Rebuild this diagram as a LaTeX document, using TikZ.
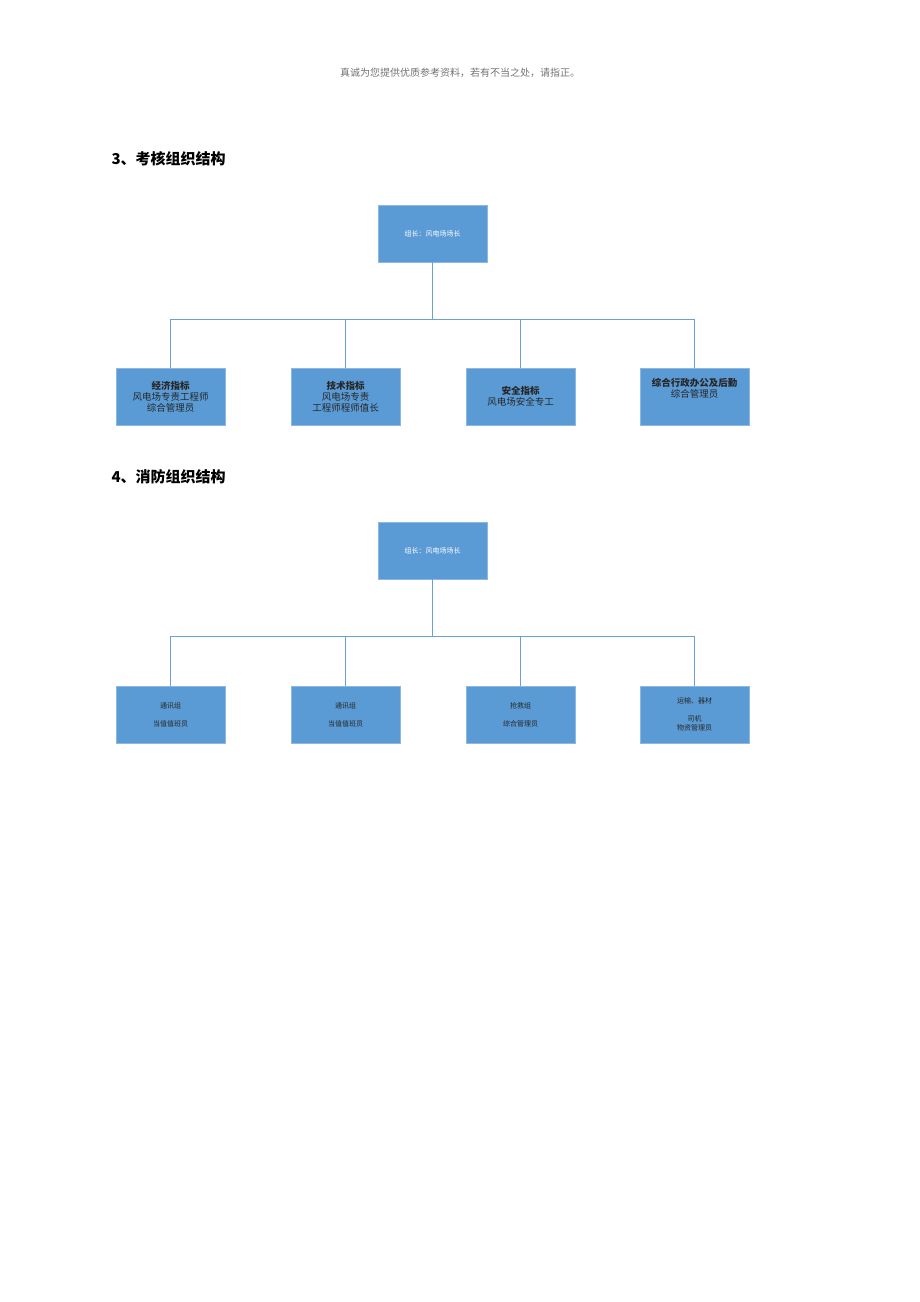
\documentclass[tikz,border=0pt]{standalone}
\usepackage{fontspec}
\newfontfamily\cjk{Noto Sans CJK SC}
\begin{document}
\begin{tikzpicture}[x=1pt,y=-1pt,
 bx/.style={draw=boxline,fill=boxfill,line width=0.8pt,minimum width=109pt,minimum height=57pt,inner sep=1pt,align=center,font=\cjk\fontsize{9.5}{11}\selectfont,text=black!85},
 topb/.style={bx,text=white,font=\cjk\fontsize{7}{9}\selectfont},
 sm/.style={bx,font=\cjk\fontsize{7}{9}\selectfont},
 ln/.style={draw=linec,line width=1pt}]
\definecolor{boxfill}{HTML}{5B9BD5}
\definecolor{boxline}{HTML}{8DB8E2}
\definecolor{linec}{HTML}{6A9FD8}
\useasboundingbox (0,0) rectangle (920,1302);
\node[font=\cjk\fontsize{10}{12}\selectfont,text=black!55] (hd) at (460,73) {真诚为您提供优质参考资料，若有不当之处，请指正。};
\node[anchor=west,font=\cjk\bfseries\fontsize{15}{18}\selectfont] (h3) at (108,159) {3、考核组织结构};
\node[anchor=west,font=\cjk\bfseries\fontsize{15}{18}\selectfont] (h4) at (108,477) {4、消防组织结构};
% chart 1
\node[topb] (t1) at (432.5,233.5) {组长：风电场场长};
\node[bx] (a1) at (170.5,396.5) {\textbf{经济指标}\\风电场专责工程师\\综合管理员};
\node[bx] (a2) at (345.5,396.5) {\textbf{技术指标}\\风电场专责\\工程师程师值长};
\node[bx] (a3) at (520.5,396.5) {\textbf{安全指标}\\风电场安全专工};
\node[bx] (a4) at (694.5,396.5) {\textbf{综合行政办公及后勤}\\综合管理员\\[6pt]};
\coordinate (m1) at (432.5,319);
\draw[ln] (t1.south) -- (m1);
\foreach \n in {a1,a2,a3,a4}{\draw[ln] (m1 -| \n.north) -- (\n.north);}
\draw[ln] (m1 -| a1.north) -- (m1 -| a4.north);
% chart 2
\node[topb] (t2) at (432.5,550.5) {组长：风电场场长};
\node[sm] (b1) at (170.5,714.5) {通讯组\\[9pt]当值值班员};
\node[sm] (b2) at (345.5,714.5) {通讯组\\[9pt]当值值班员};
\node[sm] (b3) at (520.5,714.5) {抢救组\\[9pt]综合管理员};
\node[sm] (b4) at (694.5,714.5) {运输、器材\\[9pt]司机\\物资管理员};
\coordinate (m2) at (432.5,636);
\draw[ln] (t2.south) -- (m2);
\foreach \n in {b1,b2,b3,b4}{\draw[ln] (m2 -| \n.north) -- (\n.north);}
\draw[ln] (m2 -| b1.north) -- (m2 -| b4.north);
\end{tikzpicture}
\end{document}
